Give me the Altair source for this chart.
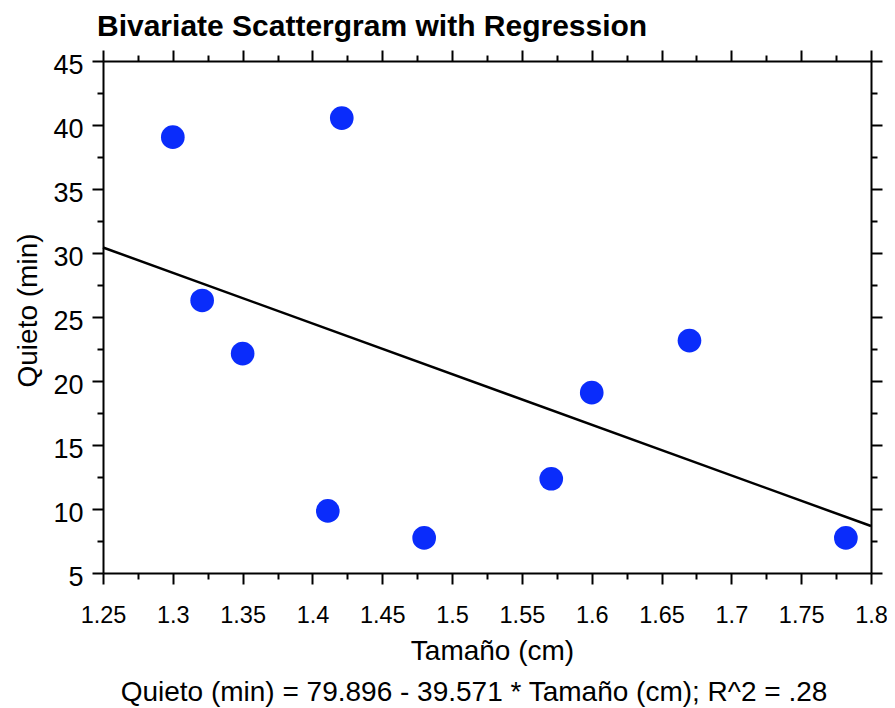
import altair as alt
import pandas as pd

# ---- data ----
tamano = [1.300, 1.421, 1.321, 1.350, 1.411, 1.480, 1.571, 1.600, 1.670, 1.782]
quieto = [39.05, 40.54, 26.29, 22.14, 9.85, 7.74, 12.36, 19.09, 23.16, 7.74]
intercept = 79.896
slope = -39.571
line_x = [1.25, 1.8]
x_ticks = [round(1.25 + 0.025 * i, 3) for i in range(23)]
y_ticks = [5 + 2.5 * i for i in range(17)]
title_text = "Bivariate Scattergram with Regression"
x_title = "Tamaño (cm)"
y_title = "Quieto (min)"
equation = "Quieto (min) = 79.896 - 39.571 * Tamaño (cm); R^2 = .28"

FONT = "Liberation Sans, Arial, Helvetica, sans-serif"
W, H = 768, 512

xscale = alt.Scale(domain=[1.25, 1.8], nice=False, zero=False)
yscale = alt.Scale(domain=[5, 45], nice=False, zero=False)

major_x = "round(datum.value * 40) % 2 == 0"
major_y = "datum.value % 5 == 0"


def xaxis(orient, labels):
    kw = dict(
        orient=orient, values=x_ticks, grid=False,
        domainColor="black", domainWidth=2,
        tickColor="black", tickWidth=2,
        tickSize={"condition": {"test": major_x, "value": 11}, "value": 6},
        labelFont=FONT, labelFontSize=23.5, labelColor="black",
        labelOverlap=False, labelFlush=False, labelPadding=19,
    )
    if labels:
        kw.update(
            labelExpr=f"{major_x} ? toString(round(datum.value * 100) / 100) : ''",
            title=x_title, titleFont=FONT, titleFontSize=28, titleFontWeight="normal",
            titleColor="black", titleX=389, titleY=86, titleBaseline="alphabetic",
            titleAlign="center",
        )
    else:
        kw.update(labels=False, title=None)
    return alt.Axis(**kw)


def yaxis(orient, labels):
    kw = dict(
        orient=orient, values=y_ticks, grid=False,
        domainColor="black", domainWidth=2,
        tickColor="black", tickWidth=2,
        tickSize={"condition": {"test": major_y, "value": 11}, "value": 6},
        labelFont=FONT, labelFontSize=27, labelColor="black",
        labelOverlap=False, labelFlush=False, labelPadding=9, labelOffset=4,
    )
    if labels:
        kw.update(
            labelExpr=f"{major_y} ? toString(datum.value) : ''",
            title=y_title, titleFont=FONT, titleFontSize=28, titleFontWeight="normal",
            titleColor="black", titleX=-75, titleY=249, titleBaseline="middle",
            titleAlign="center", titleAngle=270,
        )
    else:
        kw.update(labels=False, title=None)
    return alt.Axis(**kw)


pts_df = pd.DataFrame({"tamano": tamano, "quieto": quieto})
line_df = pd.DataFrame({"x": line_x, "a": [intercept] * len(line_x), "b": [slope] * len(line_x)})
eq_df = pd.DataFrame({"t": [equation]})

points = alt.Chart(pts_df).mark_circle(size=560, color="#0a2cfb", opacity=1).encode(
    x=alt.X("tamano:Q", scale=xscale, axis=xaxis("bottom", True)),
    y=alt.Y("quieto:Q", scale=yscale, axis=yaxis("left", True)),
)

line = alt.Chart(line_df).transform_calculate(
    y="datum.a + datum.b * datum.x"
).mark_line(color="black", strokeWidth=2.5).encode(
    x=alt.X("x:Q", scale=xscale, axis=xaxis("top", False)),
    y=alt.Y("y:Q", scale=yscale, axis=yaxis("right", False)),
)

eq = alt.Chart(eq_df).mark_text(
    font=FONT, fontSize=28, color="black", align="center", baseline="alphabetic"
).encode(text="t:N", x=alt.value(371), y=alt.value(640))

chart = alt.layer(line, points, eq).resolve_axis(
    x="independent", y="independent"
).properties(
    width=W, height=H,
    title=alt.TitleParams(
        title_text, anchor="start", frame="group", font=FONT, fontSize=30,
        fontWeight="bold", color="black", dx=-6, dy=30, offset=13, baseline="alphabetic",
    ),
    padding={"left": 95, "top": 53, "right": 16, "bottom": 135},
    autosize=alt.AutoSizeParams(type="none"),
).configure_view(stroke=None).configure(background="white")

chart.save("out.html", embed_options={"renderer": "svg", "actions": False})
